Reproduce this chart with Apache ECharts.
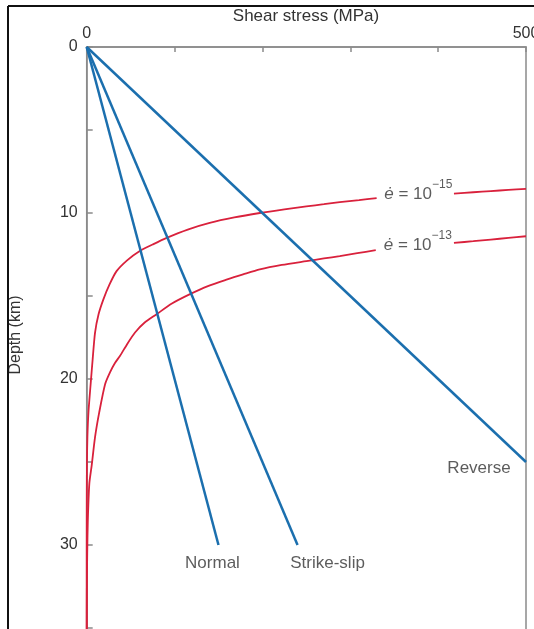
<!DOCTYPE html>
<html>
<head>
<meta charset="utf-8">
<script src="https://cdn.jsdelivr.net/npm/echarts@6/dist/echarts.min.js"></script>
<style>
  html, body { margin: 0; padding: 0; background: #fff; }
  #chart { width: 534px; height: 629px; }
</style>
</head>
<body>
<div id="chart"></div>
<script>
// Shear stress (MPa) against depth (km)
const stressLabels = [0, 500];
const depthLabels = [0, 10, 20, 30];

// Frictional strength lines: [stress, depth]
const normalFault = [[0, 0], [150, 30]];
const strikeSlipFault = [[0, 0], [240, 30]];
const reverseFault = [[0, 0], [500, 25]];

// Creep strength curves; null marks the break left for the label
const creepSlow = [
  [0, 36], [0, 30], [0.1, 27], [0.3, 25], [0.8, 23.5], [2, 22], [4.5, 20.3],
  [6.8, 18.8], [9.5, 17.2], [13.5, 16.1], [19, 15.2], [26, 14.3], [34, 13.5],
  [46, 12.85], [60, 12.3], [75, 11.9], [91, 11.5], [115, 11.0], [140, 10.6],
  [168, 10.27], [197, 10.0], [225, 9.78], [250, 9.6], [270, 9.47], [288, 9.35],
  [310, 9.22], [330, 9.1],
  null,
  [418, 8.83], [440, 8.75], [460, 8.68], [480, 8.61], [500, 8.55]
];
const creepFast = [
  [0, 36], [0.2, 32.5], [0.6, 30.5], [1.3, 28.5], [3, 26.3], [5.7, 25.2],
  [9.5, 23.5], [14.3, 22], [21, 20.3], [26.5, 19.6], [32, 19.05], [38, 18.6],
  [46, 17.9], [55, 17.2], [66, 16.6], [79.5, 16.1], [97, 15.45], [117, 14.9],
  [138, 14.4], [160, 14.0], [178, 13.7], [197, 13.4], [222, 13.13], [250, 12.9],
  [270, 12.74], [288, 12.6], [308, 12.42], [329, 12.24],
  null,
  [418, 11.8], [440, 11.7], [460, 11.6], [480, 11.5], [500, 11.4]
];
const creepNames = ['15', '13'];
const faultNames = ['Normal', 'Strike-slip', 'Reverse'];

const BLUE = '#1b6fae';
const RED = '#d9213c';
const TEXT = '#333';
const AXIS = '#8a8a8a';
const FONT = '"Liberation Sans", Arial, Helvetica, sans-serif';

function segments(arr) {
  const out = [[]];
  arr.forEach(p => { if (p === null) out.push([]); else out[out.length - 1].push(p); });
  return out;
}

function gapMidpoint(arr) {
  const i = arr.indexOf(null);
  const a = arr[i - 1], b = arr[i + 1];
  return [(a[0] + b[0]) / 2, (a[1] + b[1]) / 2];
}

const series = [];

[normalFault, strikeSlipFault, reverseFault].forEach(d => {
  series.push({
    type: 'line', data: d, symbol: 'none', silent: true,
    lineStyle: { color: BLUE, width: 2.5 }, z: 3
  });
});

[creepSlow, creepFast].forEach(curve => {
  segments(curve).forEach(seg => {
    series.push({
      type: 'line', data: seg, symbol: 'none', silent: true,
      smooth: 0.25,
      lineStyle: { color: RED, width: 1.8 }, z: 2
    });
  });
});

// Fault-type labels beside the ends of the lines
const faultLabelOffsets = [[-6, 18], [30, 18], [-47, 6]];
series.push({
  type: 'scatter', symbolSize: 0, silent: true,
  data: [normalFault, strikeSlipFault, reverseFault].map((d, i) => ({
    value: d[d.length - 1],
    label: {
      show: true, position: 'inside', formatter: faultNames[i],
      offset: faultLabelOffsets[i], color: TEXT, fontSize: 17, fontFamily: FONT
    }
  })),
  z: 5
});

// Strain-rate labels in the gaps of the creep curves
series.push({
  type: 'scatter', symbolSize: 0, silent: true,
  data: [creepSlow, creepFast].map((c, i) => ({
    value: gapMidpoint(c),
    label: {
      show: true, position: 'inside', offset: [3, -5],
      formatter: '{e|ė}{t| = 10}{s|−' + creepNames[i] + '}',
      rich: {
        e: { fontSize: 17, fontStyle: 'italic', color: TEXT, fontFamily: FONT, verticalAlign: 'bottom', lineHeight: 24 },
        t: { fontSize: 17, color: TEXT, fontFamily: FONT, verticalAlign: 'bottom', lineHeight: 24 },
        s: { fontSize: 12, color: TEXT, fontFamily: FONT, verticalAlign: 'top', lineHeight: 24 }
      }
    }
  })),
  z: 5
});

const chart = echarts.init(document.getElementById('chart'), null, { renderer: 'canvas' });
chart.setOption({
  backgroundColor: '#fff',
  animation: false,
  grid: {
    left: 86.7, top: 47, width: 439.3, height: 597.6,
    outerBoundsMode: 'none', containLabel: false,
    show: true, borderColor: AXIS, borderWidth: 1.5, backgroundColor: 'transparent'
  },
  xAxis: {
    type: 'value', position: 'top', min: 0, max: 500, interval: 100,
    axisLine: { show: true, lineStyle: { color: AXIS, width: 1.5 } },
    axisTick: { show: true, inside: true, length: 5, lineStyle: { color: AXIS, width: 1.5 } },
    axisLabel: { customValues: stressLabels, color: TEXT, fontSize: 16, fontFamily: FONT, margin: 5 },
    splitLine: { show: false }
  },
  yAxis: {
    type: 'value', inverse: true, min: 0, max: 36, interval: 5,
    axisLine: { show: true, lineStyle: { color: AXIS, width: 1.5 } },
    axisTick: { show: true, inside: true, length: 6, lineStyle: { color: AXIS, width: 1.5 } },
    axisLabel: { customValues: depthLabels, color: TEXT, fontSize: 16, fontFamily: FONT, margin: 9 },
    splitLine: { show: false }
  },
  graphic: [
    {
      type: 'text', x: 306, y: 16,
      style: { text: 'Shear stress (MPa)', fill: TEXT, font: '17px ' + FONT, align: 'center', verticalAlign: 'middle' }
    },
    {
      type: 'text', x: 16, y: 335, rotation: Math.PI / 2,
      style: { text: 'Depth (km)', fill: TEXT, font: '16px ' + FONT, align: 'center', verticalAlign: 'middle' }
    },
    { type: 'line', shape: { x1: 8, y1: 6, x2: 534, y2: 6 }, style: { stroke: '#111', lineWidth: 2 } },
    { type: 'line', shape: { x1: 8, y1: 6, x2: 8, y2: 629 }, style: { stroke: '#111', lineWidth: 2 } }
  ],
  series: series
});
</script>
</body>
</html>
